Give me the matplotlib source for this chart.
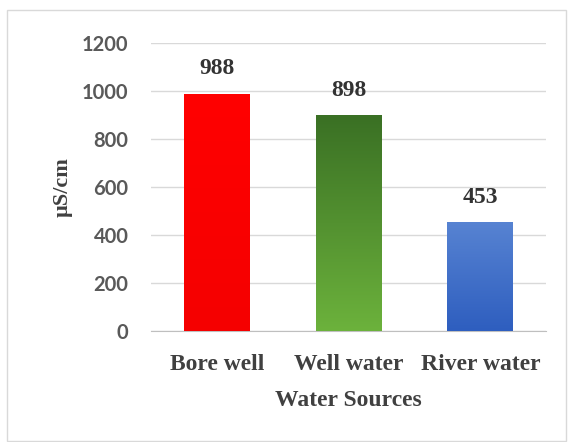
import numpy as np
import matplotlib.pyplot as plt
from matplotlib.colors import LinearSegmentedColormap
from matplotlib.patches import Rectangle

sources = ['Bore well', 'Well water', 'River water']
conductivity = [988, 898, 453]
# (top colour, bottom colour) for each bar's gradient
bar_colors = [('#ff0000', '#f50000'), ('#3a7024', '#6cb23c'), ('#5783d2', '#2e5ebf')]
yticks = [0, 200, 400, 600, 800, 1000, 1200]

fig = plt.figure(figsize=(5.69, 4.42), dpi=100)
ax = fig.add_axes([0.265, 0.251, 0.695, 0.652])

x = np.arange(len(sources))
bars = ax.bar(x, conductivity, width=0.5, color='none', zorder=3)

# fill each bar with a vertical gradient
for bar, (top, bottom) in zip(bars, bar_colors):
    cmap = LinearSegmentedColormap.from_list('g', [bottom, top])
    grad = np.linspace(0, 1, 256).reshape(-1, 1)
    x0, w, h = bar.get_x(), bar.get_width(), bar.get_height()
    im = ax.imshow(grad, cmap=cmap, origin='lower', aspect='auto',
                   extent=[x0, x0 + w, 0, h], zorder=3)
    im.set_clip_path(bar)

for xi, v in zip(x, conductivity):
    ax.text(xi, v + 60, str(v), ha='center', va='bottom', fontsize=17,
            fontweight='bold', family='Liberation Serif', color='#333333')

ax.set_xlim(-0.5, 2.5)
ax.set_ylim(0, 1200)
ax.set_yticks(yticks)
ax.set_xticks(x)
ax.set_xticklabels(sources, fontsize=17, fontweight='bold',
                   family='Liberation Serif', color='#404040')
for lbl in ax.get_yticklabels():
    lbl.set_fontsize(14.5)
    lbl.set_fontweight('bold')
    lbl.set_family('Lato')
    lbl.set_color('#595959')
ax.tick_params(length=0)
ax.tick_params(axis='y', pad=16)
ax.tick_params(axis='x', pad=16.5)

ax.grid(axis='y', color='#d9d9d9', linewidth=1, zorder=0)
for s in ['top', 'right', 'left']:
    ax.spines[s].set_visible(False)
ax.spines['bottom'].set_color('#bfbfbf')

ax.set_xlabel('Water Sources', fontsize=17, fontweight='bold',
              family='Liberation Serif', color='#404040', labelpad=11)
ax.set_ylabel('\u00b5S/cm', fontsize=16, fontweight='bold',
              family='Liberation Serif', color='#404040', labelpad=7)

# light border around the chart area
fig.patches.append(Rectangle((7 / 569, 1 / 442), 559 / 569, 431 / 442,
                             transform=fig.transFigure, fill=False,
                             edgecolor='#d9d9d9', linewidth=1))

fig.savefig('out.png', dpi=100)
